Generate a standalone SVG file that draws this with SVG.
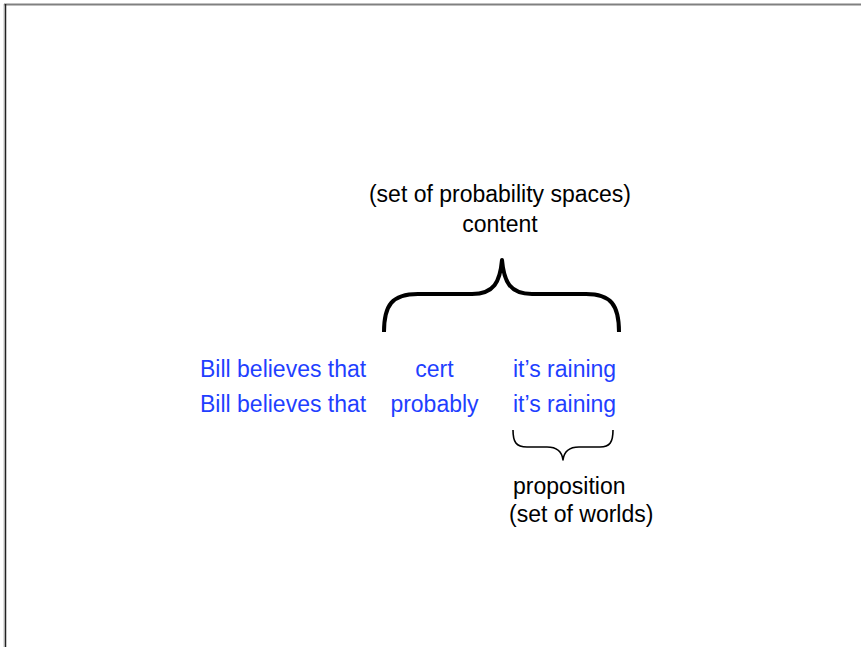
<svg xmlns="http://www.w3.org/2000/svg" width="861" height="647" viewBox="0 0 861 647">
<style>
text{font-family:"Liberation Sans",Arial,sans-serif;font-size:23px}
.k{fill:#000}
.b{fill:#1f3fff}
.brace{fill:none;stroke:#000;stroke-linecap:butt;stroke-linejoin:round}
</style>
<rect width="861" height="647" fill="#fff"/>
<g id="frame">
<line x1="4" y1="4.5" x2="861" y2="4.5" stroke="#808080" stroke-width="2"/>
<line x1="4" y1="4" x2="4" y2="647" stroke="#c0c0c0" stroke-width="1"/>
<line x1="5.5" y1="4" x2="5.5" y2="647" stroke="#222" stroke-width="1.5"/>
</g>
<g id="content-label">
<text class="k" x="500" y="202" text-anchor="middle">(set of probability spaces)</text>
<text class="k" x="500" y="232" text-anchor="middle">content</text>
</g>
<g id="connectors">
<path class="brace" stroke-width="4" d="M384,332 C384,305 392,294 418,294 L472,294 C494,294 500,282 502,260 C504,282 510,294 532,294 L586,294 C611,294 619,305 619,332"/>
<path class="brace" stroke-width="1.6" d="M513,430 C513,442 516,447 527,447 L547,447 C558,447 562,452 563,460 C564,452 568,447 579,447 L600,447 C610,447 613,442 613,430"/>
</g>
<g id="row1">
<text class="b" x="200" y="377">Bill believes that</text>
<text class="b" x="434.5" y="377" text-anchor="middle">cert</text>
<text class="b" x="513" y="377">it’s raining</text>
</g>
<g id="row2">
<text class="b" x="200" y="412">Bill believes that</text>
<text class="b" x="434.5" y="412" text-anchor="middle">probably</text>
<text class="b" x="513" y="412">it’s raining</text>
</g>
<g id="proposition-label">
<text class="k" x="513" y="494">proposition</text>
<text class="k" x="509" y="522">(set of worlds)</text>
</g>
</svg>
